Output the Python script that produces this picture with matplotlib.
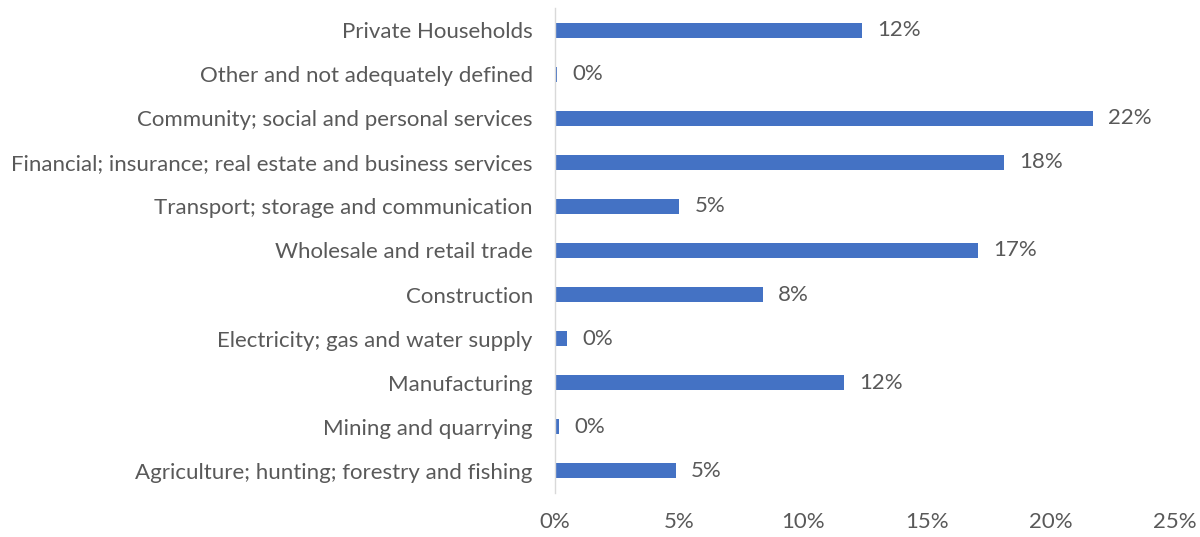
import matplotlib
matplotlib.use("Agg")
import matplotlib.pyplot as plt
from matplotlib.ticker import PercentFormatter

categories = [
    "Private Households",
    "Other and not adequately defined",
    "Community; social and personal services",
    "Financial; insurance; real estate and business services",
    "Transport; storage and communication",
    "Wholesale and retail trade",
    "Construction",
    "Electricity; gas and water supply",
    "Manufacturing",
    "Mining and quarrying",
    "Agriculture; hunting; forestry and fishing",
]
values = [12.37, 0.07, 21.68, 18.1, 5.02, 17.07, 8.39, 0.47, 11.64, 0.16, 4.87]
xticks = [0, 5, 10, 15, 20, 25]

plt.rcParams['font.family'] = ['Lato', 'DejaVu Sans']
text_color = "#595959"
bar_color = "#4472C4"
fs = 16

fig = plt.figure(figsize=(12, 5.37), dpi=100)
ax = fig.add_axes([555/1200, 1 - 493/537, (1175-555)/1200, 485/537])

n = len(categories)
ypos = list(range(n - 1, -1, -1))
ax.barh(ypos, values, height=0.34, color=bar_color)

for y, v in zip(ypos, values):
    ax.annotate(f"{round(v):.0f}%", xy=(v, y), xytext=(11, 0), textcoords="offset points",
                va="center", ha="left", fontsize=fs, color=text_color)

ax.set_xlim(0, 25)
ax.set_ylim(-0.5, n - 0.5)
ax.set_yticks(ypos)
ax.set_yticklabels(categories, fontsize=fs, color=text_color)
ax.set_xticks(xticks)
ax.xaxis.set_major_formatter(PercentFormatter(decimals=0))
ax.tick_params(axis='x', labelsize=fs, colors=text_color, length=0, pad=14)
ax.tick_params(axis='y', length=0, pad=16)

for s in ["top", "right", "bottom"]:
    ax.spines[s].set_visible(False)
ax.spines["left"].set_color("#D9D9D9")
ax.spines["left"].set_linewidth(1)

fig.savefig("out.png", dpi=100)
